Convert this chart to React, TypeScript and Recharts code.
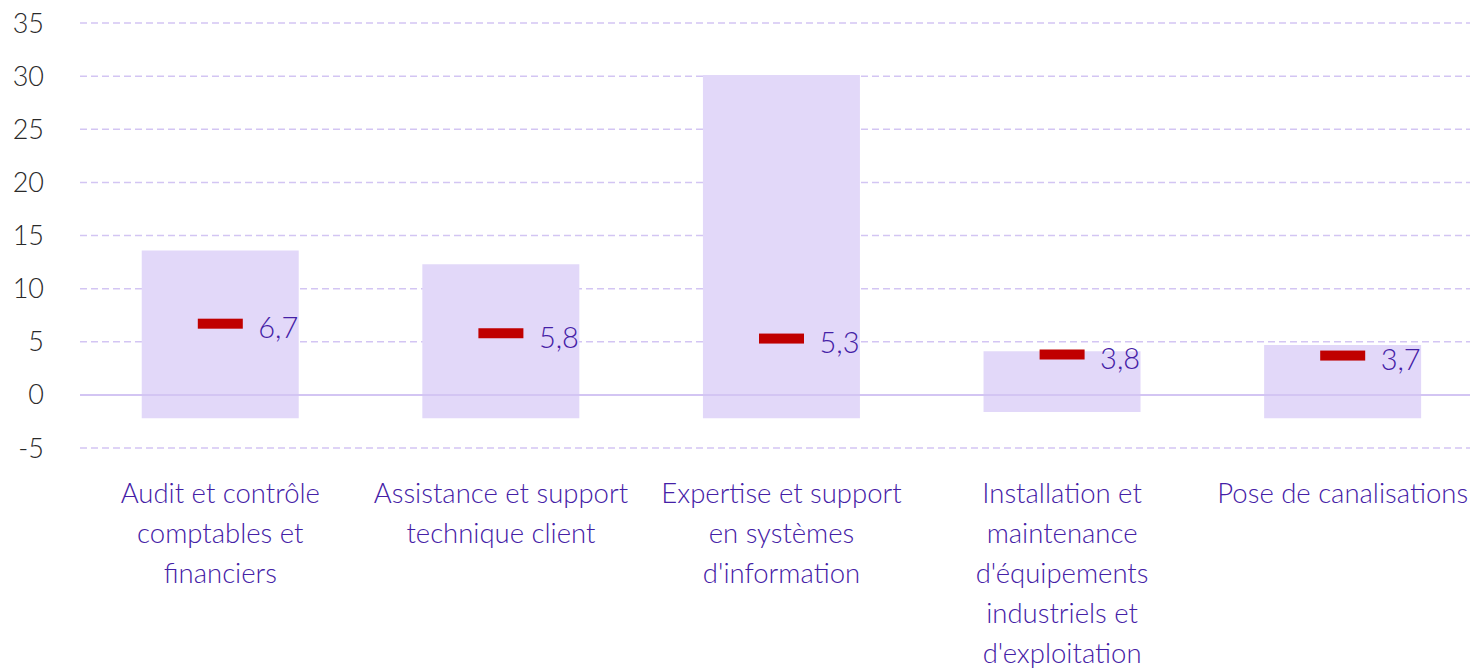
import { Bar, CartesianGrid, ComposedChart, ReferenceLine, Scatter, XAxis, YAxis } from "recharts";

const categories = [
  "Audit et contrôle\ncomptables et\nfinanciers",
  "Assistance et support\ntechnique client",
  "Expertise et support\nen systèmes\nd'information",
  "Installation et\nmaintenance\nd'équipements\nindustriels et\nd'exploitation",
  "Pose de canalisations",
];
const lows = [-2.2, -2.2, -2.2, -1.6, -2.2];
const highs = [13.6, 12.3, 30.1, 4.1, 4.7];
const medians = [6.7, 5.8, 5.3, 3.8, 3.7];
const yTicks = [-5, 0, 5, 10, 15, 20, 25, 30, 35];

const data = categories.map((name, i) => ({
  name,
  range: [lows[i], highs[i]],
  median: medians[i],
}));

const FONT = "Lato, 'Open Sans', sans-serif";
const PURPLE = "#4420A6";
const GRID = "#D3C5F3";

function CategoryTick(props: any) {
  const { x, y, payload } = props;
  const lines = String(payload.value).split("\n");
  return (
    <g>
      {lines.map((line: string, i: number) => (
        <text
          key={i}
          x={x}
          y={y + 36 + i * 40}
          textAnchor="middle"
          dominantBaseline="central"
          fill={PURPLE}
          fontSize={27.5}
          fontWeight={300}
          fontFamily={FONT}
        >
          {line}
        </text>
      ))}
    </g>
  );
}

function MedianMark(props: any) {
  const { cx, cy, payload } = props;
  return (
    <g>
      <rect x={cx - 22.5} y={cy - 5} width={45} height={10} fill="#C00000" />
      <text
        x={cx + 38}
        y={cy + 3}
        dominantBaseline="central"
        fill={PURPLE}
        fontSize={29}
        fontWeight={300}
        fontFamily={FONT}
      >
        {String(payload.median).replace(".", ",")}
      </text>
    </g>
  );
}

export default function App() {
  return (
    <div style={{ width: 1470, overflow: "hidden", marginTop: -8 }}>
      <ComposedChart
        width={1480}
        height={670}
        data={data}
        margin={{ top: 23, right: 5, bottom: 2, left: 0 }}
        barCategoryGap="22%"
      >
        <CartesianGrid vertical={false} stroke={GRID} strokeDasharray="7 4" strokeWidth={1.5} />
        <XAxis
          dataKey="name"
          axisLine={false}
          tickLine={false}
          height={220}
          interval={0}
          tick={<CategoryTick />}
        />
        <YAxis
          domain={[-5, 35]}
          ticks={yTicks}
          axisLine={false}
          tickLine={false}
          width={72}
          tickMargin={30}
          tick={{ fill: "#2a2a2a", fontSize: 27, fontWeight: 300, fontFamily: FONT }}
        />
        <Bar dataKey="range" fill="#E2D8F9" isAnimationActive={false} />
        <ReferenceLine y={0} stroke={GRID} strokeWidth={2} />
        <Scatter dataKey="median" shape={<MedianMark />} isAnimationActive={false} />
      </ComposedChart>
    </div>
  );
}
